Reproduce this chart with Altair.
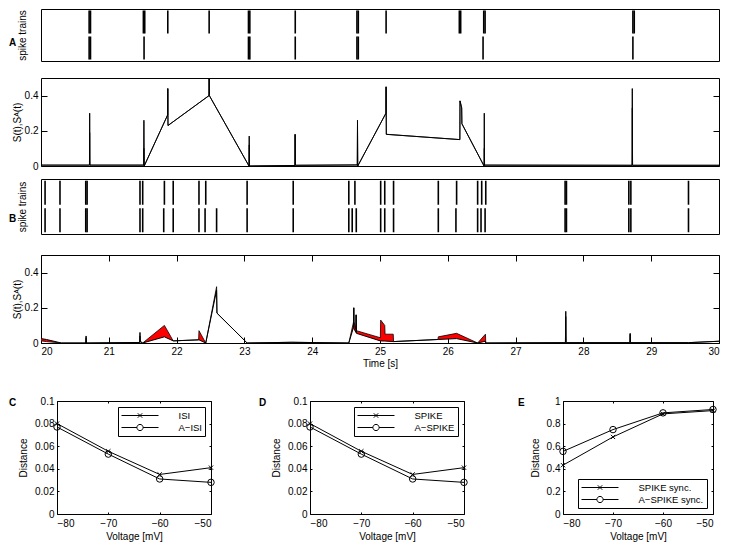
import altair as alt
import pandas as pd

FONT = "Liberation Sans"

# ---------------- A: spike trains ----------------
a_train1 = [20.71, 20.73, 21.51, 21.53, 21.87, 22.48, 23.06, 23.08, 23.75,
            24.66, 24.68, 25.09, 26.17, 26.19, 26.53, 26.55, 28.73, 28.75]
a_train2 = [20.71, 20.73, 21.52, 23.06, 23.08, 23.75, 24.66, 24.68, 26.52, 28.73]

# A: S(t) and S^A(t) profiles
a_t = [20.00, 20.715, 20.718, 20.722, 21.515, 21.518, 21.522, 21.868, 21.870, 21.873,
       22.478, 22.480, 22.483, 23.068, 23.071, 23.074, 23.745, 23.748, 23.752, 24.665,
       24.668, 24.672, 25.088, 25.090, 25.093, 26.178, 26.180, 26.205, 26.208, 26.535,
       26.538, 26.542, 28.718, 28.721, 28.725, 30.00]
a_s = [0.005, 0.005, 0.30, 0.005, 0.005, 0.26, 0.0, 0.29, 0.44, 0.23,
       0.40, 0.50, 0.40, 0.0, 0.17, 0.0, 0.003, 0.18, 0.004, 0.006,
       0.26, 0.0, 0.30, 0.45, 0.18, 0.15, 0.37, 0.33, 0.24, 0.0,
       0.30, 0.005, 0.004, 0.44, 0.004, 0.004]
a_sa = [0.005, 0.005, 0.19, 0.005, 0.005, 0.10, 0.0, 0.29, 0.44, 0.23,
        0.40, 0.50, 0.40, 0.0, 0.12, 0.0, 0.003, 0.18, 0.004, 0.006,
        0.22, 0.0, 0.30, 0.45, 0.18, 0.15, 0.37, 0.33, 0.24, 0.0,
        0.10, 0.005, 0.004, 0.33, 0.004, 0.004]

# ---------------- B: spike trains ----------------
b_train1 = [20.06, 20.28, 20.66, 20.68, 21.46, 21.50, 21.82, 21.95, 22.33, 22.43,
            23.04, 23.72, 24.54, 24.63, 25.01, 25.07, 25.20, 25.86, 26.13, 26.44,
            26.50, 26.56, 27.73, 27.75, 28.67, 28.70, 29.55]
b_train2 = [20.06, 20.28, 20.66, 20.68, 21.46, 21.50, 21.81, 21.95, 22.33, 22.42,
            22.59, 23.04, 23.72, 24.54, 24.59, 24.65, 25.01, 25.07, 25.20, 25.86,
            26.12, 26.44, 26.49, 26.55, 27.73, 27.75, 28.67, 28.70, 29.55]

b_t = [20.00, 20.08, 20.30, 20.66, 20.665, 20.67, 21.455, 21.46, 21.465, 21.50,
       21.82, 21.95, 22.325, 22.33, 22.43, 22.59, 22.595, 23.04, 23.70, 24.54,
       24.61, 24.613, 24.617, 24.645, 24.648, 24.652, 25.005, 25.01, 25.07, 25.075,
       25.195, 25.20, 25.855, 25.86, 26.13, 26.44, 26.555, 26.56, 27.735, 27.74,
       27.745, 28.685, 28.69, 28.695, 29.55, 30.00]
b_s = [0.025, 0.02, 0.0, 0.0, 0.04, 0.0, 0.003, 0.06, 0.01, 0.0,
       0.035, 0.012, 0.018, 0.018, 0.0, 0.30, 0.17, 0.0, 0.004, 0.0,
       0.09, 0.20, 0.08, 0.06, 0.16, 0.055, 0.012, 0.012, 0.011, 0.011,
       0.008, 0.008, 0.02, 0.02, 0.025, 0.0, 0.01, 0.0, 0.002, 0.18,
       0.002, 0.002, 0.055, 0.002, 0.002, 0.01]
b_sa = [0.012, 0.008, 0.0, 0.0, 0.03, 0.0, 0.003, 0.04, 0.005, 0.0,
        0.10, 0.012, 0.018, 0.07, 0.0, 0.32, 0.17, 0.0, 0.004, 0.0,
        0.12, 0.20, 0.12, 0.08, 0.16, 0.07, 0.03, 0.13, 0.10, 0.05,
        0.05, 0.008, 0.02, 0.035, 0.055, 0.0, 0.05, 0.0, 0.002, 0.15,
        0.002, 0.002, 0.05, 0.002, 0.002, 0.01]

# ---------------- C, D, E ----------------
volt = [-80, -70, -60, -50]
isi = [0.080, 0.0555, 0.035, 0.041]
a_isi = [0.077, 0.053, 0.031, 0.028]
spike = [0.080, 0.0555, 0.035, 0.041]
a_spike = [0.077, 0.053, 0.031, 0.028]
sync = [0.432, 0.682, 0.886, 0.915]
a_sync = [0.554, 0.747, 0.895, 0.925]

XPATH = "M-1,-1L1,1M-1,1L1,-1"
# legend symbols: a line with a marker in the middle (size 100 -> unit = 5 px)
LEG_X = "M-3.7,0L3.7,0M-0.44,-0.44L0.44,0.44M-0.44,0.44L0.44,-0.44"
LEG_O = ("M-3.7,0L-0.62,0M0.62,0L3.7,0M0.62,0A0.62,0.62,0,1,1,-0.62,0"
         "A0.62,0.62,0,1,1,0.62,0")

TOP_W = 678
TICK_TOP = 6


def spacer(w, h):
    return alt.Chart(pd.DataFrame({"z": [0]})).mark_point(opacity=0, size=1).encode(
        x=alt.value(0), y=alt.value(0)
    ).properties(width=w, height=h, view=alt.ViewBackground(stroke="transparent"))


def letter_layer(letter, x, y):
    return alt.Chart(pd.DataFrame({"lab": [letter]})).mark_text(
        align="left", baseline="middle", fontWeight="bold", fontSize=10,
        font=FONT, color="black"
    ).encode(text="lab:N", x=alt.value(x), y=alt.value(y))


def spike_panel(tr1, tr2, letter, h, label_y):
    df = pd.DataFrame({"t": tr1 + tr2,
                       "train": ["1"] * len(tr1) + ["2"] * len(tr2)})
    ticks = alt.Chart(df).mark_tick(color="black", thickness=1.6, opacity=1,
                                    size=round(h * 0.44)).encode(
        x=alt.X("t:Q", scale=alt.Scale(domain=[20, 30], nice=False, zero=False), axis=None),
        y=alt.Y("train:N", scale=alt.Scale(domain=["1", "2"], paddingInner=0, paddingOuter=0),
                axis=alt.Axis(title="spike trains", labels=False, ticks=False,
                              domain=False, titlePadding=14)),
    )
    return alt.layer(ticks, letter_layer(letter, -32, label_y)).properties(
        width=TOP_W, height=h)


def profile_panel(t, s, sa, show_time):
    df = pd.DataFrame({"t": t, "s": s, "sa": sa})
    xs = alt.Scale(domain=[20, 30], nice=False, zero=False)
    ys = alt.Scale(domain=[0, 0.5], nice=False)
    secs = list(range(20, 31))
    if show_time:
        xaxis = alt.Axis(orient="bottom", values=secs, format="d", title="Time [s]",
                         tickSize=TICK_TOP, offset=-TICK_TOP, labelPadding=3, titlePadding=2)
        xmirror = alt.Axis(orient="top", values=secs, labels=False, title=None,
                           tickSize=TICK_TOP, offset=-TICK_TOP)
    else:
        xaxis = None
        xmirror = None
    yaxis = alt.Axis(orient="left", values=[0, 0.2, 0.4], format=".1~f",
                     title="S(t),Sᴬ(t)", tickSize=TICK_TOP, offset=-TICK_TOP,
                     labelPadding=3, titlePadding=2)
    ymirror = alt.Axis(orient="right", values=[0, 0.2, 0.4], labels=False, title=None,
                       tickSize=TICK_TOP, offset=-TICK_TOP)
    base = alt.Chart(df)
    area = base.mark_area(color="#ff0000", opacity=1, clip=True).encode(
        x=alt.X("t:Q", scale=xs, axis=xaxis),
        y=alt.Y("s:Q", scale=ys, axis=yaxis),
        y2="sa:Q",
    )
    l1 = base.mark_line(color="black", strokeWidth=1, clip=True).encode(
        x=alt.X("t:Q", axis=None), y=alt.Y("s:Q", axis=None))
    l2 = base.mark_line(color="black", strokeWidth=0.8, clip=True).encode(
        x=alt.X("t:Q", axis=None), y=alt.Y("sa:Q", axis=None))
    mirror = base.mark_point(opacity=0, size=1).encode(
        x=alt.X("t:Q", axis=xmirror), y=alt.Y("s:Q", axis=ymirror))
    return alt.layer(area, l1, l2, mirror).resolve_axis(
        x="independent", y="independent").properties(width=TOP_W, height=88)


def dist_panel(letter, names, v1, v2, ymax, yvals, yfmt, legend_orient, w, label_x):
    df = pd.DataFrame({"v": volt + volt, "d": v1 + v2,
                       "m": [names[0]] * 4 + [names[1]] * 4})
    xs = alt.Scale(domain=[-80, -50], nice=False, zero=False)
    ys = alt.Scale(domain=[0, ymax], nice=False)
    tk = 2
    xaxis = alt.Axis(orient="bottom", values=volt, format="d", title="Voltage [mV]",
                     tickSize=tk, offset=-tk, labelPadding=4, titlePadding=3)
    xmirror = alt.Axis(orient="top", values=volt, labels=False, title=None,
                       tickSize=tk, offset=-tk)
    yaxis = alt.Axis(orient="left", values=yvals, format=yfmt, title="Distance",
                     tickSize=tk, offset=-tk, labelPadding=3, titlePadding=6)
    ymirror = alt.Axis(orient="right", values=yvals, labels=False, title=None,
                       tickSize=tk, offset=-tk)
    base = alt.Chart(df)
    lines = base.mark_line(color="black", strokeWidth=1).encode(
        x=alt.X("v:Q", scale=xs, axis=xaxis),
        y=alt.Y("d:Q", scale=ys, axis=yaxis),
        detail="m:N",
    )
    p1 = base.transform_filter(alt.datum.m == names[0]).mark_point(
        shape=XPATH, size=18, color="black", strokeWidth=1, filled=False, opacity=1).encode(
        x=alt.X("v:Q", axis=None), y=alt.Y("d:Q", axis=None))
    p2 = base.transform_filter(alt.datum.m == names[1]).mark_point(
        shape="circle", size=42, color="black", strokeWidth=1, filled=False, opacity=1).encode(
        x=alt.X("v:Q", axis=None), y=alt.Y("d:Q", axis=None))
    leg = base.mark_point(opacity=0, size=1).encode(
        x=alt.X("v:Q", axis=None), y=alt.Y("d:Q", axis=None),
        shape=alt.Shape("m:N", scale=alt.Scale(domain=names, range=[LEG_X, LEG_O]),
                        legend=alt.Legend(title=None, orient=legend_orient, offset=6,
                                          symbolSize=100, symbolOffset=13.5,
                                          symbolOpacity=1,
                                          symbolStrokeColor="black", symbolStrokeWidth=1,
                                          symbolFillColor="transparent",
                                          labelFont=FONT, labelFontSize=9.5,
                                          labelColor="black", labelOffset=33,
                                          padding=3, rowPadding=2,
                                          strokeColor="black", fillColor="white")),
    )
    mirror = base.mark_point(opacity=0, size=1).encode(
        x=alt.X("v:Q", axis=xmirror), y=alt.Y("d:Q", axis=ymirror))
    lab = letter_layer(letter, label_x, 2)
    return alt.layer(lines, p1, p2, leg, mirror, lab).resolve_axis(
        x="independent", y="independent").properties(width=w, height=113)


spk_a = spike_panel(a_train1, a_train2, "A", 52, 34)
prof_a = profile_panel(a_t, a_s, a_sa, False)
spk_b = spike_panel(b_train1, b_train2, "B", 55, 40)
prof_b = profile_panel(b_t, b_s, b_sa, True)

c = dist_panel("C", ["ISI", "A−ISI"], isi, a_isi, 0.1,
               [0, 0.02, 0.04, 0.06, 0.08, 0.1], ".2~f", "top-right", 154, -48)
d = dist_panel("D", ["SPIKE", "A−SPIKE"], spike, a_spike, 0.1,
               [0, 0.02, 0.04, 0.06, 0.08, 0.1], ".2~f", "top-right", 154, -51)
e = dist_panel("E", ["SPIKE sync.", "A−SPIKE sync."], sync, a_sync, 1.0,
               [0, 0.2, 0.4, 0.6, 0.8, 1.0], ".1~f", "bottom-right", 150, -45)

bottom_inner = alt.hconcat(c, d, e, spacing=99, bounds="flush").resolve_scale(
    shape="independent").resolve_legend(shape="independent")
bottom = alt.hconcat(spacer(16, 113), bottom_inner, spacing=0, bounds="flush")

chart = alt.vconcat(
    spk_a, spacer(1, 17), prof_a, spacer(1, 13), spk_b, spacer(1, 21), prof_b,
    spacer(1, 58), bottom,
    spacing=0, bounds="flush",
).properties(padding=0).configure(font=FONT).configure_view(
    stroke="black", strokeWidth=1
).configure_axis(
    labelFont=FONT, labelFontSize=10, labelColor="black",
    titleFont=FONT, titleFontSize=10, titleFontWeight="normal", titleColor="black",
    tickColor="black", tickWidth=1, grid=False, domain=False,
)

chart.save("out.html", embed_options={"renderer": "svg", "actions": False})
